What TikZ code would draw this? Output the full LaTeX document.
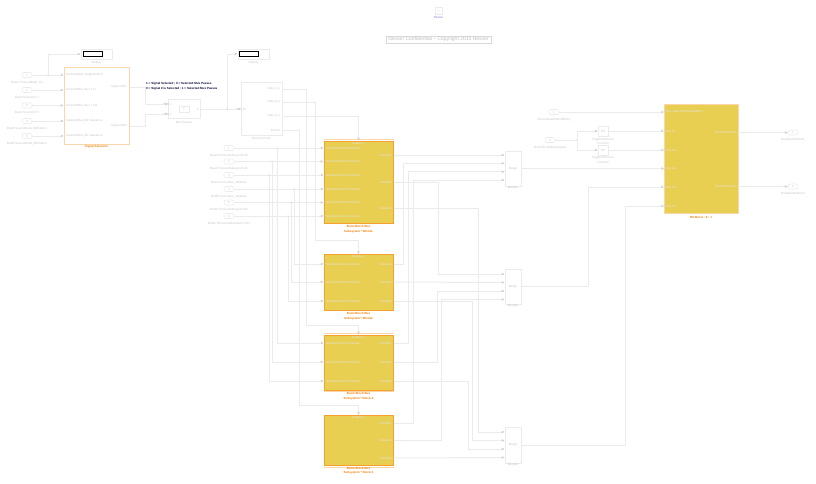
\documentclass[tikz,border=0pt]{standalone}
\usepackage{fontspec}
\setmainfont{Liberation Sans}
\usetikzlibrary{arrows.meta,positioning,shadows}
\definecolor{wirecol}{HTML}{EBEBEB}
\definecolor{tipcol}{HTML}{CCCCCC}
\definecolor{txtcol}{HTML}{C4C4C4}
\definecolor{portcol}{HTML}{E6E6E6}
\definecolor{blockfill}{HTML}{E8CF52}
\definecolor{blockline}{HTML}{F6A030}
\definecolor{paleline}{HTML}{FBD6A8}
\definecolor{namecol}{HTML}{F07C00}
\newcommand{\mini}{\fontsize{3pt}{4.5pt}\selectfont}
\tikzset{
  wire/.style   = {draw=wirecol, line width=1pt},
  arr/.style    = {wire, -{Stealth[length=3pt,width=2.6pt,color=tipcol]}},
  base/.style   = {draw=wirecol, line width=1pt, inner sep=0pt, font=\mini, text=txtcol},
  subsys/.style = {base, draw=blockline, fill=blockfill, line width=1pt, minimum width=69},
  mergebox/.style = {base, minimum width=16, minimum height=35},
  inport/.style = {base, rounded corners=2pt, minimum width=10, minimum height=5, line width=.6pt},
  gainbox/.style = {base, minimum width=10, minimum height=10, line width=.6pt},
  portin/.style  = {font=\mini, text=txtcol, anchor=west, inner sep=0pt},
  portout/.style = {font=\mini, text=txtcol, anchor=east, inner sep=0pt},
  portlite/.style = {font=\mini, text=portcol, inner sep=0pt},
  caption/.style = {font=\mini, text=txtcol, inner sep=0pt, align=center},
  blockname/.style = {font=\mini\bfseries, text=namecol, inner sep=0pt, align=center},
  dot/.style    = {circle, fill=tipcol, inner sep=0pt, minimum size=1.2},
}
\begin{document}
\begin{tikzpicture}[x=1pt,y=-1pt]
\useasboundingbox (0,0) rectangle (816,483);
% header
\node[base, minimum width=7, minimum height=7, line width=.5pt] (docblk) at (438.5,10.5) {\fontsize{2pt}{2pt}\selectfont N};
\node[caption, text=blue!40!gray!70] (docname) at (438.5,17) {Nesser};
\node[base, draw=gray!30, line width=.4pt, fill=white, minimum width=105, minimum height=7.5,
      font=\fontsize{5pt}{5.5pt}\selectfont, text=gray!50, drop shadow={shadow xshift=.7pt,shadow yshift=-.7pt,fill=gray!60}] (title)
      at (438.5,39.7) {Nesser Confidential -- Copyright 2015 Nesser};
% left selection block
\node[base, draw=paleline, minimum width=65, minimum height=77] (selblk) at (96.5,106) {};
\node[blockname] (selname) at (96.5,147) {Signal Selection};
\foreach \y/\t/\s [count=\i] in {75/{BusA:TimeoutMode\_ms}/{SelectedBus\_SingleControl},
    90/{BusA:Source(1:7)}/{SelectedBus\_Bus 1 In},
    105.5/{BusA:Source(1:5)}/{SelectedBus\_Bus 1 In2},
    121/{BusB:SourceBusA\_BitPattern}/{SelectedBus\_Bit Sequence},
    136/{BusB:SourceBusB\_BitPattern}/{SelectedBus\_Bit Sequence}} {
  \node[inport] (selin\i) at (27,\y) {\i};
  \node[caption, below=3pt of selin\i] (selcap\i) {\t};
  \node[portin] (selport\i) at (66,\y) {\s};
  \draw[arr] (selin\i) -- (selblk.west |- selin\i);
}
\node[portout] (selout1) at (127,87) {Signal Out1};
\node[portout] (selout2) at (127,126) {Signal Out2};
% displays
\node[base, minimum width=31, minimum height=10] (dispA) at (96.5,54) {};
\node[draw=black, fill=white, line width=.9pt, minimum width=19, minimum height=5, inner sep=0pt] (dispAval) at (92.5,54) {};
\node[caption] (dispAcap) at (96.5,63) {Display};
\node[base, minimum width=31, minimum height=10] (dispB) at (253.5,54) {};
\node[draw=black, fill=white, line width=.9pt, minimum width=19, minimum height=5, inner sep=0pt] (dispBval) at (248.5,54) {};
\node[caption] (dispBcap) at (253.5,63) {Display};
\draw[arr] (48,75) |- (dispA.west);
\node[dot] (jctA) at (48,75) {};
% notes
\node[font=\mini\bfseries, text=black!80!blue, anchor=west, inner sep=0pt] (noteA) at (146,84) {1 = Signal Selected ; 0 = Selected Mux Passes};
\node[font=\mini\bfseries, text=black!80!blue, anchor=west, inner sep=0pt] (noteB) at (146,89) {0 = Signal 0 is Selected ; 1 = Selected Mux Passes};
% mux
\node[base, minimum width=32, minimum height=18.5] (mux) at (184,108.8) {};
\node[base, minimum width=10, minimum height=6, line width=.4pt] (muxicon) at (184,109) {\fontsize{2pt}{2pt}\selectfont IF};
\node[caption] (muxcap) at (184,122) {Mux Passes};
\coordinate (muxA) at (168,104);
\coordinate (muxB) at (168,114);
\node[portout] (muxAt) at (172,104) {BUS 1};
\node[portout] (muxBt) at (172,114) {BUS 2};
\node[portout] (muxOt) at (199,109) {1};
\draw[arr] (selblk.east |- selout1) -| (145,104) -- (muxA);
\draw[arr] (selblk.east |- selout2) -| (145,114) -- (muxB);
% bus selector
\node[base, minimum width=41, minimum height=52.5] (bussel) at (261.5,108.8) {};
\node[caption] (buscap) at (261.5,138) {Bus Sel Ports};
\node[portout] (busin) at (246,109) {BUS IN};
\draw[arr] (mux.east |- muxOt) -- (bussel.west |- muxOt);
\draw[arr] (227,109) |- (dispB.west);
\node[dot] (jctB) at (227,109) {};
\foreach \y/\t [count=\i] in {89/{Data [ 1 ]},102/{Data [ 2 ]},116/{Data [ 3 ]},130/{Bit Sel}} {
  \node[portout] (busout\i) at (280,\y) {\t};
}
% burst subsystems
\node[subsys, minimum height=82] (blkA) at (358.5,182) {};
\node[subsys, minimum height=56] (blkB) at (358.5,282.5) {};
\node[subsys, minimum height=55] (blkC) at (358.5,362.5) {};
\node[subsys, minimum height=50.5] (blkD) at (358.5,440.7) {};
% pale rims
\draw[paleline, line width=.6pt] ([yshift=.9pt]blkA.north west) -- ([yshift=.9pt]blkA.north east);
\draw[paleline, line width=.6pt] ([yshift=.9pt]blkC.north west) -- ([yshift=.9pt]blkC.north east);
\draw[paleline, line width=.6pt] ([yshift=-.9pt]blkC.south west) -- ([yshift=-.9pt]blkC.south east);
\draw[paleline, line width=.6pt] ([yshift=-.9pt]blkD.south west) -- ([yshift=-.9pt]blkD.south east);
\foreach \b/\y/\n in {A/227/Block1,B/314/Block2,C/394/Block 3,D/468.5/Block 4} {
  \node[blockname, anchor=north] (name\b) at (358.5,\y-1.5) {Burst Block Bus\\Subsystem * \n};
  \node[portlite] (en\b) at (blk\b.north) [yshift=-3pt] {Enable [ ]};
}
% input ports of the first subsystem
\foreach \y/\x/\t [count=\i] in {148/277/{BusA:TimeoutSubsystem 00},161.5/272/{BusA:TimeoutSubsystem 01},175/269/{BusA:SourceBus\_Attribute},
    189/294/{BusB:SourceBus\_Attribute},202.5/291/{BusB:TimeoutSubsystem 02},216/288/{BusB:TimeoutSubsystem 0 Set}} {
  \node[inport] (in\i) at (229,\y) {\i};
  \node[caption, below=3pt of in\i] (incap\i) {\t};
  \draw[arr] (in\i) -- (blkA.west |- in\i);
  \node[dot] (jct\i) at (\x,\y) {};
  \node[portlite, anchor=west] (aport\i) at (326,\y) {Selected Bus Connection};
}
% ports of the other subsystems
\foreach \b/\ya/\yb/\yc in {B/264/282/301,C/343/362/381} {
  \foreach \y in {\ya,\yb,\yc} {
    \node[portlite, anchor=west] at (326,\y) {Selected Bus Connection};
  }
}
\foreach \b/\ya/\yb/\yc in {A/155/182/208,B/264/282/301,C/343/362/381,D/423/440.5/458} {
  \node[portlite, anchor=east] (out\b1) at (391.5,\ya) {Passed1};
  \node[portlite, anchor=east] (out\b2) at (391.5,\yb) {Passed2};
  \node[portlite, anchor=east] (out\b3) at (391.5,\yc) {Passed3};
}
% fan out of the inputs
\draw[arr] (jct4) |- (blkB.west |- outB1);
\draw[arr] (jct5) |- (blkB.west |- outB2);
\draw[arr] (jct6) |- (blkB.west |- outB3);
\draw[arr] (jct1) |- (blkC.west |- outC1);
\draw[arr] (jct2) |- (blkC.west |- outC2);
\draw[arr] (jct3) |- (blkC.west |- outC3);
% enables
\draw[arr] (bussel.east |- busout3) -| (blkA.north);
\draw[arr] (bussel.east |- busout2) -| (315,240) -| (blkB.north);
\draw[arr] (bussel.east |- busout1) -| (306.5,325.5) -| (blkC.north);
\draw[arr] (bussel.east |- busout4) -| (299,405) -| (blkD.north);
% merges
\node[mergebox] (mgA) at (513,168.5) {Merge};
\node[mergebox] (mgB) at (513,286.5) {Merge};
\node[mergebox, minimum height=36] (mgC) at (513,445) {Merge};
\foreach \m/\y/\n in {A/188/Merge1,B/306/Merge2,C/465/Merge3} {
  \node[caption] (mgcap\m) at (513,\y) {\n};
}
\foreach \i/\ya/\yb/\yc in {1/155/274/432,2/163.3/282.5/440.5,3/171.7/291/449,4/180/299.5/457.5} {
  \coordinate (mgA\i) at (mgA.west |- 0,\ya);
  \coordinate (mgB\i) at (mgB.west |- 0,\yb);
  \coordinate (mgC\i) at (mgC.west |- 0,\yc);
}
\draw[arr] (blkA.east |- outA1) -- (mgA1);
\draw[arr] (blkB.east |- outB1) -| (403.5,163.3) -- (mgA2);
\draw[arr] (blkC.east |- outC1) -| (408,171.7) -- (mgA3);
\draw[arr] (blkD.east |- outD1) -| (413,180) -- (mgA4);
\draw[arr] (blkA.east |- outA2) -| (438.5,274) -- (mgB1);
\draw[arr] (blkB.east |- outB2) -- (mgB2);
\draw[arr] (blkC.east |- outC2) -| (437.5,291) -- (mgB3);
\draw[arr] (blkD.east |- outD2) -| (441.5,299.5) -- (mgB4);
\draw[arr] (blkA.east |- outA3) -| (478,432) -- (mgC1);
\draw[arr] (blkB.east |- outB3) -| (472,440.5) -- (mgC2);
\draw[arr] (blkC.east |- outC3) -| (468.5,449) -- (mgC3);
\draw[arr] (blkD.east |- outD3) -- (mgC4);
% output block
\node[subsys, draw=paleline, line width=.8pt, minimum width=73.5, minimum height=109] (outblk) at (701.2,159) {};
\node[blockname] (outname) at (701.2,217) {Bit Burst : 8 : 1};
\foreach \y/\t [count=\i] in {112/{Bus\_SelectorBusInputEntry},131/{Bus In},150/{Bus Sel},168.5/{Bus A1},187/{Bus A2},206/{Bus A3}} {
  \coordinate (oin\i) at (outblk.west |- 0,\y);
  \node[portlite, anchor=west] (oport\i) at (666,\y) {\t};
}
\node[inport] (ctlA) at (554,112) {1};
\node[caption, below=3pt of ctlA] (ctlAcap) {SourceBusAttributeEntry};
\draw[arr] (ctlA) -- (oin1);
\node[inport] (ctlB) at (550,140) {2};
\node[caption, below=3pt of ctlB] (ctlBcap) {Burst Bit AttributeSignal};
\node[gainbox] (gainA) at (603,131) {D1};
\node[gainbox] (gainB) at (603,150) {D2};
\node[caption] (gainAcap) at (603,141.5) {TriggeredSource\\Function};
\node[caption] (gainBcap) at (603,160) {TriggeredSource\\Function};
\coordinate (fork) at (577,140);
\draw[wire] (ctlB) -- (fork);
\node[dot] (forkdot) at (fork) {};
\draw[arr] (fork) |- (gainA);
\draw[arr] (fork) |- (gainB);
\draw[arr] (gainA) -- (oin2);
\draw[arr] (gainB) -- (oin3);
\draw[arr] (mgA.east) -- (oin4);
\draw[arr] (mgB.east) -| (588,187) -- (oin5);
\draw[arr] (mgC.east) -| (625,206) -- (oin6);
\foreach \y/\t [count=\i] in {132.5/{BusMainBusOut1},186.5/{BusMainBusOut2}} {
  \node[portout, text=portcol] (oout\i) at (736,\y) {Bus Status Out};
  \node[inport] (oport\i) at (793,\y) {\i};
  \node[caption, below=3pt of oport\i] (ooutcap\i) {\t};
  \draw[arr] (outblk.east |- oport\i) -- (oport\i);
}
\end{tikzpicture}
\end{document}
